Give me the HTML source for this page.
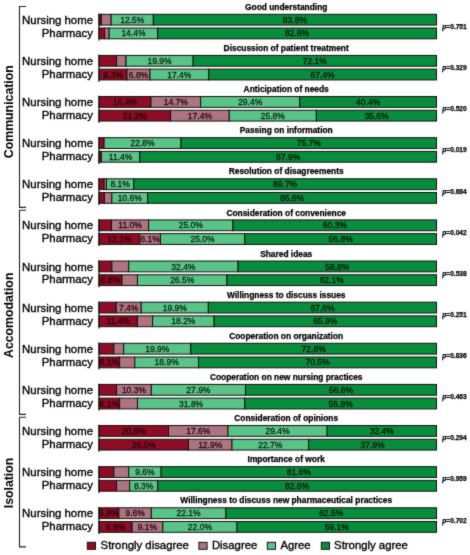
<!DOCTYPE html>
<html><head><meta charset="utf-8"><style>
html,body{margin:0;padding:0;background:#fff;}
body{width:470px;height:555px;overflow:hidden;}
svg{display:block;}
#w{width:470px;height:555px;}
text{font-family:"Liberation Sans",sans-serif;}
.tt{font-size:8.4px;font-weight:bold;text-anchor:middle;fill:#000;stroke:#000;stroke-width:0.25px;}
.pl{font-size:8.5px;text-anchor:middle;stroke-width:0.3px;}
.rl{font-size:11.4px;text-anchor:end;fill:#000;stroke:#000;stroke-width:0.35px;}
.pv{font-size:6.6px;font-weight:bold;fill:#000;stroke:#000;stroke-width:0.25px;}
.vl{font-size:12.3px;font-weight:bold;text-anchor:middle;fill:#000;}
.lg{font-size:11.35px;fill:#000;stroke:#000;stroke-width:0.35px;}
</style></head><body>
<div id="w"><svg width="470" height="555" viewBox="0 0 470 555">
<defs><filter id="sf" x="0" y="0" width="470" height="555" filterUnits="userSpaceOnUse" color-interpolation-filters="sRGB"><feConvolveMatrix order="3" kernelMatrix="0.02 0.08 0.02 0.08 0.6 0.08 0.02 0.08 0.02" edgeMode="duplicate"/></filter></defs>
<g filter="url(#sf)">
<rect width="470" height="555" fill="#fff"/>
<text x="286.2" y="9.90" class="tt">Good understanding</text>
<rect x="99.00" y="14.30" width="2.36" height="10.80" fill="#8e0c24" stroke="#111" stroke-width="1"/>
<rect x="101.36" y="14.30" width="9.79" height="10.80" fill="#ae7481" stroke="#111" stroke-width="1"/>
<rect x="111.15" y="14.30" width="42.19" height="10.80" fill="#5ac387" stroke="#111" stroke-width="1"/>
<text x="132.24" y="22.75" class="pl" fill="#0a2a14" stroke="#0a2a14">12.5%</text>
<rect x="153.34" y="14.30" width="283.16" height="10.80" fill="#088d3c" stroke="#111" stroke-width="1"/>
<text x="294.92" y="22.75" class="pl" fill="#021a0a" stroke="#021a0a">83.8%</text>
<rect x="99.00" y="28.00" width="5.74" height="10.80" fill="#8e0c24" stroke="#111" stroke-width="1"/>
<rect x="104.74" y="28.00" width="4.39" height="10.80" fill="#ae7481" stroke="#111" stroke-width="1"/>
<rect x="109.12" y="28.00" width="48.60" height="10.80" fill="#5ac387" stroke="#111" stroke-width="1"/>
<text x="133.43" y="36.45" class="pl" fill="#0a2a14" stroke="#0a2a14">14.4%</text>
<rect x="157.73" y="28.00" width="278.77" height="10.80" fill="#088d3c" stroke="#111" stroke-width="1"/>
<text x="297.11" y="36.45" class="pl" fill="#021a0a" stroke="#021a0a">82.6%</text>
<line x1="99.0" y1="13.60" x2="99.0" y2="40.50" stroke="#111" stroke-width="1.2"/>
<text x="93" y="23.80" class="rl">Nursing home</text>
<text x="93" y="36.70" class="rl">Pharmacy</text>
<text x="442.3" y="29.00" class="pv"><tspan font-style="italic">p</tspan>=0.751</text>
<text x="286.2" y="51.02" class="tt">Discussion of patient treatment</text>
<rect x="99.00" y="55.42" width="17.55" height="10.80" fill="#8e0c24" stroke="#111" stroke-width="1"/>
<rect x="116.55" y="55.42" width="9.45" height="10.80" fill="#ae7481" stroke="#111" stroke-width="1"/>
<rect x="126.00" y="55.42" width="67.16" height="10.80" fill="#5ac387" stroke="#111" stroke-width="1"/>
<text x="159.58" y="63.87" class="pl" fill="#0a2a14" stroke="#0a2a14">19.9%</text>
<rect x="193.16" y="55.42" width="243.34" height="10.80" fill="#088d3c" stroke="#111" stroke-width="1"/>
<text x="314.83" y="63.87" class="pl" fill="#021a0a" stroke="#021a0a">72.1%</text>
<rect x="99.00" y="69.12" width="28.01" height="10.80" fill="#8e0c24" stroke="#111" stroke-width="1"/>
<text x="113.01" y="77.58" class="pl" fill="#2a0008" stroke="#2a0008">8.3%</text>
<rect x="127.01" y="69.12" width="22.95" height="10.80" fill="#ae7481" stroke="#111" stroke-width="1"/>
<text x="138.49" y="77.58" class="pl" fill="#2a0a10" stroke="#2a0a10">6.8%</text>
<rect x="149.96" y="69.12" width="58.72" height="10.80" fill="#5ac387" stroke="#111" stroke-width="1"/>
<text x="179.32" y="77.58" class="pl" fill="#0a2a14" stroke="#0a2a14">17.4%</text>
<rect x="208.69" y="69.12" width="227.81" height="10.80" fill="#088d3c" stroke="#111" stroke-width="1"/>
<text x="322.59" y="77.58" class="pl" fill="#021a0a" stroke="#021a0a">67.4%</text>
<line x1="99.0" y1="54.72" x2="99.0" y2="81.63" stroke="#111" stroke-width="1.2"/>
<text x="93" y="64.92" class="rl">Nursing home</text>
<text x="93" y="77.82" class="rl">Pharmacy</text>
<text x="442.3" y="70.12" class="pv"><tspan font-style="italic">p</tspan>=0.329</text>
<text x="286.2" y="92.15" class="tt">Anticipation of needs</text>
<rect x="99.00" y="96.55" width="51.98" height="10.80" fill="#8e0c24" stroke="#111" stroke-width="1"/>
<text x="124.99" y="105.00" class="pl" fill="#2a0008" stroke="#2a0008">15.4%</text>
<rect x="150.97" y="96.55" width="49.61" height="10.80" fill="#ae7481" stroke="#111" stroke-width="1"/>
<text x="175.78" y="105.00" class="pl" fill="#2a0a10" stroke="#2a0a10">14.7%</text>
<rect x="200.59" y="96.55" width="99.22" height="10.80" fill="#5ac387" stroke="#111" stroke-width="1"/>
<text x="250.20" y="105.00" class="pl" fill="#0a2a14" stroke="#0a2a14">29.4%</text>
<rect x="299.81" y="96.55" width="136.69" height="10.80" fill="#088d3c" stroke="#111" stroke-width="1"/>
<text x="368.16" y="105.00" class="pl" fill="#021a0a" stroke="#021a0a">40.4%</text>
<rect x="99.00" y="110.25" width="71.55" height="10.80" fill="#8e0c24" stroke="#111" stroke-width="1"/>
<text x="134.78" y="118.70" class="pl" fill="#2a0008" stroke="#2a0008">21.2%</text>
<rect x="170.55" y="110.25" width="58.72" height="10.80" fill="#ae7481" stroke="#111" stroke-width="1"/>
<text x="199.91" y="118.70" class="pl" fill="#2a0a10" stroke="#2a0a10">17.4%</text>
<rect x="229.28" y="110.25" width="87.08" height="10.80" fill="#5ac387" stroke="#111" stroke-width="1"/>
<text x="272.81" y="118.70" class="pl" fill="#0a2a14" stroke="#0a2a14">25.8%</text>
<rect x="316.35" y="110.25" width="120.15" height="10.80" fill="#088d3c" stroke="#111" stroke-width="1"/>
<text x="376.43" y="118.70" class="pl" fill="#021a0a" stroke="#021a0a">35.6%</text>
<line x1="99.0" y1="95.85" x2="99.0" y2="122.75" stroke="#111" stroke-width="1.2"/>
<text x="93" y="106.05" class="rl">Nursing home</text>
<text x="93" y="118.95" class="rl">Pharmacy</text>
<text x="442.3" y="111.25" class="pv"><tspan font-style="italic">p</tspan>=0.520</text>
<text x="286.2" y="133.28" class="tt">Passing on information</text>
<rect x="99.00" y="137.68" width="5.06" height="10.80" fill="#8e0c24" stroke="#111" stroke-width="1"/>
<rect x="104.06" y="137.68" width="76.95" height="10.80" fill="#5ac387" stroke="#111" stroke-width="1"/>
<text x="142.54" y="146.13" class="pl" fill="#0a2a14" stroke="#0a2a14">22.8%</text>
<rect x="181.01" y="137.68" width="255.49" height="10.80" fill="#088d3c" stroke="#111" stroke-width="1"/>
<text x="308.76" y="146.13" class="pl" fill="#021a0a" stroke="#021a0a">75.7%</text>
<rect x="99.00" y="151.38" width="2.36" height="10.80" fill="#8e0c24" stroke="#111" stroke-width="1"/>
<rect x="101.36" y="151.38" width="38.48" height="10.80" fill="#5ac387" stroke="#111" stroke-width="1"/>
<text x="120.60" y="159.83" class="pl" fill="#0a2a14" stroke="#0a2a14">11.4%</text>
<rect x="139.84" y="151.38" width="296.66" height="10.80" fill="#088d3c" stroke="#111" stroke-width="1"/>
<text x="288.17" y="159.83" class="pl" fill="#021a0a" stroke="#021a0a">87.9%</text>
<line x1="99.0" y1="136.98" x2="99.0" y2="163.88" stroke="#111" stroke-width="1.2"/>
<text x="93" y="147.18" class="rl">Nursing home</text>
<text x="93" y="160.08" class="rl">Pharmacy</text>
<text x="442.3" y="152.38" class="pv"><tspan font-style="italic">p</tspan>=0.019</text>
<text x="286.2" y="174.40" class="tt">Resolution of disagreements</text>
<rect x="99.00" y="178.80" width="5.06" height="10.80" fill="#8e0c24" stroke="#111" stroke-width="1"/>
<rect x="104.06" y="178.80" width="2.36" height="10.80" fill="#ae7481" stroke="#111" stroke-width="1"/>
<rect x="106.42" y="178.80" width="27.34" height="10.80" fill="#5ac387" stroke="#111" stroke-width="1"/>
<text x="120.09" y="187.25" class="pl" fill="#0a2a14" stroke="#0a2a14">8.1%</text>
<rect x="133.76" y="178.80" width="302.74" height="10.80" fill="#088d3c" stroke="#111" stroke-width="1"/>
<text x="285.13" y="187.25" class="pl" fill="#021a0a" stroke="#021a0a">89.7%</text>
<rect x="99.00" y="192.50" width="5.40" height="10.80" fill="#8e0c24" stroke="#111" stroke-width="1"/>
<rect x="104.40" y="192.50" width="7.43" height="10.80" fill="#ae7481" stroke="#111" stroke-width="1"/>
<rect x="111.83" y="192.50" width="35.77" height="10.80" fill="#5ac387" stroke="#111" stroke-width="1"/>
<text x="129.71" y="200.95" class="pl" fill="#0a2a14" stroke="#0a2a14">10.6%</text>
<rect x="147.60" y="192.50" width="288.90" height="10.80" fill="#088d3c" stroke="#111" stroke-width="1"/>
<text x="292.05" y="200.95" class="pl" fill="#021a0a" stroke="#021a0a">85.6%</text>
<line x1="99.0" y1="178.10" x2="99.0" y2="205.00" stroke="#111" stroke-width="1.2"/>
<text x="93" y="188.30" class="rl">Nursing home</text>
<text x="93" y="201.20" class="rl">Pharmacy</text>
<text x="442.3" y="193.50" class="pv"><tspan font-style="italic">p</tspan>=0.684</text>
<text x="286.2" y="215.53" class="tt">Consideration of convenience</text>
<rect x="99.00" y="219.93" width="12.49" height="10.80" fill="#8e0c24" stroke="#111" stroke-width="1"/>
<rect x="111.49" y="219.93" width="37.12" height="10.80" fill="#ae7481" stroke="#111" stroke-width="1"/>
<text x="130.05" y="228.38" class="pl" fill="#2a0a10" stroke="#2a0a10">11.0%</text>
<rect x="148.61" y="219.93" width="84.38" height="10.80" fill="#5ac387" stroke="#111" stroke-width="1"/>
<text x="190.80" y="228.38" class="pl" fill="#0a2a14" stroke="#0a2a14">25.0%</text>
<rect x="232.99" y="219.93" width="203.51" height="10.80" fill="#088d3c" stroke="#111" stroke-width="1"/>
<text x="334.74" y="228.38" class="pl" fill="#021a0a" stroke="#021a0a">60.3%</text>
<rect x="99.00" y="233.62" width="40.84" height="10.80" fill="#8e0c24" stroke="#111" stroke-width="1"/>
<text x="119.42" y="242.08" class="pl" fill="#2a0008" stroke="#2a0008">12.1%</text>
<rect x="139.84" y="233.62" width="20.59" height="10.80" fill="#ae7481" stroke="#111" stroke-width="1"/>
<text x="150.13" y="242.08" class="pl" fill="#2a0a10" stroke="#2a0a10">6.1%</text>
<rect x="160.43" y="233.62" width="84.38" height="10.80" fill="#5ac387" stroke="#111" stroke-width="1"/>
<text x="202.61" y="242.08" class="pl" fill="#0a2a14" stroke="#0a2a14">25.0%</text>
<rect x="244.80" y="233.62" width="191.70" height="10.80" fill="#088d3c" stroke="#111" stroke-width="1"/>
<text x="340.65" y="242.08" class="pl" fill="#021a0a" stroke="#021a0a">56.8%</text>
<line x1="99.0" y1="219.23" x2="99.0" y2="246.12" stroke="#111" stroke-width="1.2"/>
<text x="93" y="229.43" class="rl">Nursing home</text>
<text x="93" y="242.33" class="rl">Pharmacy</text>
<text x="442.3" y="234.62" class="pv"><tspan font-style="italic">p</tspan>=0.042</text>
<text x="286.2" y="256.65" class="tt">Shared ideas</text>
<rect x="99.00" y="261.05" width="12.82" height="10.80" fill="#8e0c24" stroke="#111" stroke-width="1"/>
<rect x="111.83" y="261.05" width="16.88" height="10.80" fill="#ae7481" stroke="#111" stroke-width="1"/>
<rect x="128.70" y="261.05" width="109.35" height="10.80" fill="#5ac387" stroke="#111" stroke-width="1"/>
<text x="183.38" y="269.50" class="pl" fill="#0a2a14" stroke="#0a2a14">32.4%</text>
<rect x="238.05" y="261.05" width="198.45" height="10.80" fill="#088d3c" stroke="#111" stroke-width="1"/>
<text x="337.27" y="269.50" class="pl" fill="#021a0a" stroke="#021a0a">58.8%</text>
<rect x="99.00" y="274.75" width="22.95" height="10.80" fill="#8e0c24" stroke="#111" stroke-width="1"/>
<text x="110.47" y="283.20" class="pl" fill="#2a0008" stroke="#2a0008">6.8%</text>
<rect x="121.95" y="274.75" width="15.53" height="10.80" fill="#ae7481" stroke="#111" stroke-width="1"/>
<rect x="137.47" y="274.75" width="89.44" height="10.80" fill="#5ac387" stroke="#111" stroke-width="1"/>
<text x="182.19" y="283.20" class="pl" fill="#0a2a14" stroke="#0a2a14">26.5%</text>
<rect x="226.91" y="274.75" width="209.59" height="10.80" fill="#088d3c" stroke="#111" stroke-width="1"/>
<text x="331.71" y="283.20" class="pl" fill="#021a0a" stroke="#021a0a">62.1%</text>
<line x1="99.0" y1="260.35" x2="99.0" y2="287.25" stroke="#111" stroke-width="1.2"/>
<text x="93" y="270.55" class="rl">Nursing home</text>
<text x="93" y="283.45" class="rl">Pharmacy</text>
<text x="442.3" y="275.75" class="pv"><tspan font-style="italic">p</tspan>=0.538</text>
<text x="286.2" y="297.78" class="tt">Willingness to discuss issues</text>
<rect x="99.00" y="302.18" width="17.21" height="10.80" fill="#8e0c24" stroke="#111" stroke-width="1"/>
<rect x="116.21" y="302.18" width="24.98" height="10.80" fill="#ae7481" stroke="#111" stroke-width="1"/>
<text x="128.70" y="310.62" class="pl" fill="#2a0a10" stroke="#2a0a10">7.4%</text>
<rect x="141.19" y="302.18" width="67.16" height="10.80" fill="#5ac387" stroke="#111" stroke-width="1"/>
<text x="174.77" y="310.62" class="pl" fill="#0a2a14" stroke="#0a2a14">19.9%</text>
<rect x="208.35" y="302.18" width="228.15" height="10.80" fill="#088d3c" stroke="#111" stroke-width="1"/>
<text x="322.43" y="310.62" class="pl" fill="#021a0a" stroke="#021a0a">67.6%</text>
<rect x="99.00" y="315.88" width="38.48" height="10.80" fill="#8e0c24" stroke="#111" stroke-width="1"/>
<text x="118.24" y="324.32" class="pl" fill="#2a0008" stroke="#2a0008">11.4%</text>
<rect x="137.47" y="315.88" width="15.19" height="10.80" fill="#ae7481" stroke="#111" stroke-width="1"/>
<rect x="152.66" y="315.88" width="61.42" height="10.80" fill="#5ac387" stroke="#111" stroke-width="1"/>
<text x="183.38" y="324.32" class="pl" fill="#0a2a14" stroke="#0a2a14">18.2%</text>
<rect x="214.09" y="315.88" width="222.41" height="10.80" fill="#088d3c" stroke="#111" stroke-width="1"/>
<text x="325.29" y="324.32" class="pl" fill="#021a0a" stroke="#021a0a">65.9%</text>
<line x1="99.0" y1="301.48" x2="99.0" y2="328.38" stroke="#111" stroke-width="1.2"/>
<text x="93" y="311.68" class="rl">Nursing home</text>
<text x="93" y="324.57" class="rl">Pharmacy</text>
<text x="442.3" y="316.88" class="pv"><tspan font-style="italic">p</tspan>=0.251</text>
<text x="286.2" y="338.90" class="tt">Cooperation on organization</text>
<rect x="99.00" y="343.30" width="14.85" height="10.80" fill="#8e0c24" stroke="#111" stroke-width="1"/>
<rect x="113.85" y="343.30" width="9.79" height="10.80" fill="#ae7481" stroke="#111" stroke-width="1"/>
<rect x="123.64" y="343.30" width="67.16" height="10.80" fill="#5ac387" stroke="#111" stroke-width="1"/>
<text x="157.22" y="351.75" class="pl" fill="#0a2a14" stroke="#0a2a14">19.9%</text>
<rect x="190.80" y="343.30" width="245.70" height="10.80" fill="#088d3c" stroke="#111" stroke-width="1"/>
<text x="313.65" y="351.75" class="pl" fill="#021a0a" stroke="#021a0a">72.8%</text>
<rect x="99.00" y="357.00" width="20.59" height="10.80" fill="#8e0c24" stroke="#111" stroke-width="1"/>
<text x="109.29" y="365.45" class="pl" fill="#2a0008" stroke="#2a0008">6.1%</text>
<rect x="119.59" y="357.00" width="15.19" height="10.80" fill="#ae7481" stroke="#111" stroke-width="1"/>
<rect x="134.78" y="357.00" width="63.79" height="10.80" fill="#5ac387" stroke="#111" stroke-width="1"/>
<text x="166.67" y="365.45" class="pl" fill="#0a2a14" stroke="#0a2a14">18.9%</text>
<rect x="198.56" y="357.00" width="237.94" height="10.80" fill="#088d3c" stroke="#111" stroke-width="1"/>
<text x="317.53" y="365.45" class="pl" fill="#021a0a" stroke="#021a0a">70.5%</text>
<line x1="99.0" y1="342.60" x2="99.0" y2="369.50" stroke="#111" stroke-width="1.2"/>
<text x="93" y="352.80" class="rl">Nursing home</text>
<text x="93" y="365.70" class="rl">Pharmacy</text>
<text x="442.3" y="358.00" class="pv"><tspan font-style="italic">p</tspan>=0.836</text>
<text x="286.2" y="380.03" class="tt">Cooperation on new nursing practices</text>
<rect x="99.00" y="384.43" width="17.55" height="10.80" fill="#8e0c24" stroke="#111" stroke-width="1"/>
<rect x="116.55" y="384.43" width="34.76" height="10.80" fill="#ae7481" stroke="#111" stroke-width="1"/>
<text x="133.93" y="392.88" class="pl" fill="#2a0a10" stroke="#2a0a10">10.3%</text>
<rect x="151.31" y="384.43" width="94.16" height="10.80" fill="#5ac387" stroke="#111" stroke-width="1"/>
<text x="198.39" y="392.88" class="pl" fill="#0a2a14" stroke="#0a2a14">27.9%</text>
<rect x="245.47" y="384.43" width="191.03" height="10.80" fill="#088d3c" stroke="#111" stroke-width="1"/>
<text x="340.99" y="392.88" class="pl" fill="#021a0a" stroke="#021a0a">56.6%</text>
<rect x="99.00" y="398.12" width="20.59" height="10.80" fill="#8e0c24" stroke="#111" stroke-width="1"/>
<text x="109.29" y="406.57" class="pl" fill="#2a0008" stroke="#2a0008">6.1%</text>
<rect x="119.59" y="398.12" width="17.89" height="10.80" fill="#ae7481" stroke="#111" stroke-width="1"/>
<rect x="137.47" y="398.12" width="107.33" height="10.80" fill="#5ac387" stroke="#111" stroke-width="1"/>
<text x="191.14" y="406.57" class="pl" fill="#0a2a14" stroke="#0a2a14">31.8%</text>
<rect x="244.80" y="398.12" width="191.70" height="10.80" fill="#088d3c" stroke="#111" stroke-width="1"/>
<text x="340.65" y="406.57" class="pl" fill="#021a0a" stroke="#021a0a">56.8%</text>
<line x1="99.0" y1="383.73" x2="99.0" y2="410.62" stroke="#111" stroke-width="1.2"/>
<text x="93" y="393.93" class="rl">Nursing home</text>
<text x="93" y="406.82" class="rl">Pharmacy</text>
<text x="442.3" y="399.12" class="pv"><tspan font-style="italic">p</tspan>=0.463</text>
<text x="286.2" y="421.15" class="tt">Consideration of opinions</text>
<rect x="99.00" y="425.55" width="69.53" height="10.80" fill="#8e0c24" stroke="#111" stroke-width="1"/>
<text x="133.76" y="434.00" class="pl" fill="#2a0008" stroke="#2a0008">20.6%</text>
<rect x="168.53" y="425.55" width="59.40" height="10.80" fill="#ae7481" stroke="#111" stroke-width="1"/>
<text x="198.23" y="434.00" class="pl" fill="#2a0a10" stroke="#2a0a10">17.6%</text>
<rect x="227.93" y="425.55" width="99.22" height="10.80" fill="#5ac387" stroke="#111" stroke-width="1"/>
<text x="277.54" y="434.00" class="pl" fill="#0a2a14" stroke="#0a2a14">29.4%</text>
<rect x="327.15" y="425.55" width="109.35" height="10.80" fill="#088d3c" stroke="#111" stroke-width="1"/>
<text x="381.82" y="434.00" class="pl" fill="#021a0a" stroke="#021a0a">32.4%</text>
<rect x="99.00" y="439.25" width="89.44" height="10.80" fill="#8e0c24" stroke="#111" stroke-width="1"/>
<text x="143.72" y="447.70" class="pl" fill="#2a0008" stroke="#2a0008">26.5%</text>
<rect x="188.44" y="439.25" width="43.54" height="10.80" fill="#ae7481" stroke="#111" stroke-width="1"/>
<text x="210.21" y="447.70" class="pl" fill="#2a0a10" stroke="#2a0a10">12.9%</text>
<rect x="231.97" y="439.25" width="76.61" height="10.80" fill="#5ac387" stroke="#111" stroke-width="1"/>
<text x="270.28" y="447.70" class="pl" fill="#0a2a14" stroke="#0a2a14">22.7%</text>
<rect x="308.59" y="439.25" width="127.91" height="10.80" fill="#088d3c" stroke="#111" stroke-width="1"/>
<text x="372.54" y="447.70" class="pl" fill="#021a0a" stroke="#021a0a">37.9%</text>
<line x1="99.0" y1="424.85" x2="99.0" y2="451.75" stroke="#111" stroke-width="1.2"/>
<text x="93" y="435.05" class="rl">Nursing home</text>
<text x="93" y="447.95" class="rl">Pharmacy</text>
<text x="442.3" y="440.25" class="pv"><tspan font-style="italic">p</tspan>=0.294</text>
<text x="286.2" y="462.28" class="tt">Importance of work</text>
<rect x="99.00" y="466.68" width="14.85" height="10.80" fill="#8e0c24" stroke="#111" stroke-width="1"/>
<rect x="113.85" y="466.68" width="14.85" height="10.80" fill="#ae7481" stroke="#111" stroke-width="1"/>
<rect x="128.70" y="466.68" width="32.40" height="10.80" fill="#5ac387" stroke="#111" stroke-width="1"/>
<text x="144.90" y="475.12" class="pl" fill="#0a2a14" stroke="#0a2a14">9.6%</text>
<rect x="161.10" y="466.68" width="275.40" height="10.80" fill="#088d3c" stroke="#111" stroke-width="1"/>
<text x="298.80" y="475.12" class="pl" fill="#021a0a" stroke="#021a0a">81.6%</text>
<rect x="99.00" y="480.38" width="17.55" height="10.80" fill="#8e0c24" stroke="#111" stroke-width="1"/>
<rect x="116.55" y="480.38" width="13.16" height="10.80" fill="#ae7481" stroke="#111" stroke-width="1"/>
<rect x="129.71" y="480.38" width="28.01" height="10.80" fill="#5ac387" stroke="#111" stroke-width="1"/>
<text x="143.72" y="488.82" class="pl" fill="#0a2a14" stroke="#0a2a14">8.3%</text>
<rect x="157.73" y="480.38" width="278.77" height="10.80" fill="#088d3c" stroke="#111" stroke-width="1"/>
<text x="297.11" y="488.82" class="pl" fill="#021a0a" stroke="#021a0a">82.6%</text>
<line x1="99.0" y1="465.98" x2="99.0" y2="492.88" stroke="#111" stroke-width="1.2"/>
<text x="93" y="476.18" class="rl">Nursing home</text>
<text x="93" y="489.07" class="rl">Pharmacy</text>
<text x="442.3" y="481.38" class="pv"><tspan font-style="italic">p</tspan>=0.959</text>
<text x="286.2" y="503.40" class="tt">Willingness to discuss new pharmaceutical practices</text>
<rect x="99.00" y="507.80" width="19.91" height="10.80" fill="#8e0c24" stroke="#111" stroke-width="1"/>
<text x="108.96" y="516.25" class="pl" fill="#2a0008" stroke="#2a0008">5.9%</text>
<rect x="118.91" y="507.80" width="32.40" height="10.80" fill="#ae7481" stroke="#111" stroke-width="1"/>
<text x="135.11" y="516.25" class="pl" fill="#2a0a10" stroke="#2a0a10">9.6%</text>
<rect x="151.31" y="507.80" width="74.59" height="10.80" fill="#5ac387" stroke="#111" stroke-width="1"/>
<text x="188.61" y="516.25" class="pl" fill="#0a2a14" stroke="#0a2a14">22.1%</text>
<rect x="225.90" y="507.80" width="210.60" height="10.80" fill="#088d3c" stroke="#111" stroke-width="1"/>
<text x="331.20" y="516.25" class="pl" fill="#021a0a" stroke="#021a0a">62.5%</text>
<rect x="99.00" y="521.50" width="33.08" height="10.80" fill="#8e0c24" stroke="#111" stroke-width="1"/>
<text x="115.54" y="529.95" class="pl" fill="#2a0008" stroke="#2a0008">9.8%</text>
<rect x="132.07" y="521.50" width="30.71" height="10.80" fill="#ae7481" stroke="#111" stroke-width="1"/>
<text x="147.43" y="529.95" class="pl" fill="#2a0a10" stroke="#2a0a10">9.1%</text>
<rect x="162.79" y="521.50" width="74.25" height="10.80" fill="#5ac387" stroke="#111" stroke-width="1"/>
<text x="199.91" y="529.95" class="pl" fill="#0a2a14" stroke="#0a2a14">22.0%</text>
<rect x="237.04" y="521.50" width="199.46" height="10.80" fill="#088d3c" stroke="#111" stroke-width="1"/>
<text x="336.77" y="529.95" class="pl" fill="#021a0a" stroke="#021a0a">59.1%</text>
<line x1="99.0" y1="507.10" x2="99.0" y2="534.00" stroke="#111" stroke-width="1.2"/>
<text x="93" y="517.30" class="rl">Nursing home</text>
<text x="93" y="530.20" class="rl">Pharmacy</text>
<text x="442.3" y="522.50" class="pv"><tspan font-style="italic">p</tspan>=0.702</text>
<path d="M26 6.5 H19.5 V207.4 H26" fill="none" stroke="#222" stroke-width="1.1"/>
<path d="M26 210.3 H19.5 V414.4 H26" fill="none" stroke="#222" stroke-width="1.1"/>
<path d="M26 417.3 H19.5 V546.9 H26" fill="none" stroke="#222" stroke-width="1.1"/>
<text x="0" y="0" class="vl" transform="translate(12.9 111.7) rotate(-90)">Communication</text>
<text x="0" y="0" class="vl" transform="translate(12.9 315.3) rotate(-90)">Accomodation</text>
<text x="0" y="0" class="vl" transform="translate(12.9 483.0) rotate(-90)">Isolation</text>
<rect x="87.3" y="542.3" width="8.2" height="7" fill="#8e0c24" stroke="#111" stroke-width="1"/>
<text x="100.6" y="549.2" class="lg">Strongly disagree</text>
<rect x="198.9" y="542.3" width="8.2" height="7" fill="#ae7481" stroke="#111" stroke-width="1"/>
<text x="211.9" y="549.2" class="lg">Disagree</text>
<rect x="267.3" y="542.3" width="8.2" height="7" fill="#5ac387" stroke="#111" stroke-width="1"/>
<text x="280.4" y="549.2" class="lg">Agree</text>
<rect x="321.3" y="542.3" width="8.2" height="7" fill="#088d3c" stroke="#111" stroke-width="1"/>
<text x="334.1" y="549.2" class="lg">Strongly agree</text>
</g>
</svg></div>
</body></html>
